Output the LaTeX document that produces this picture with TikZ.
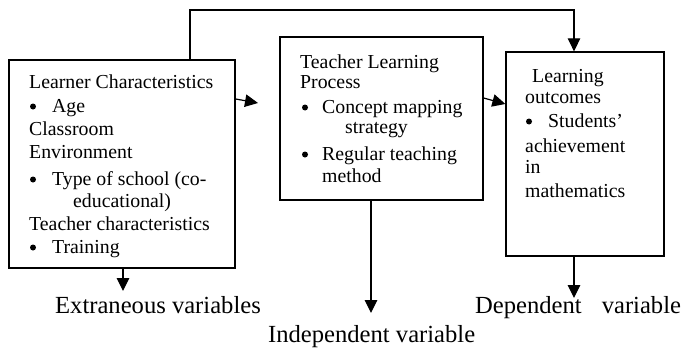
\documentclass[tikz,border=0pt]{standalone}
\usepackage{fontspec}
\setmainfont{Liberation Serif}
\usetikzlibrary{arrows.meta}
\tikzset{
  boxst/.style={draw, line width=1.3pt, minimum width=#1, inner sep=0pt},
  txt/.style={anchor=base west, inner sep=0pt, font=\fontsize{19.8}{23}\selectfont},
  lbl/.style={anchor=base west, inner sep=0pt, font=\fontsize{24.6}{28}\selectfont},
  bul/.style={circle, fill, inner sep=0pt, minimum size=6pt},
  arr/.style={line width=1.2pt, -{Triangle[length=13pt,width=12.5pt]}},
}
\begin{document}
\begin{tikzpicture}[x=1pt,y=-1pt]
\useasboundingbox (0,0) rectangle (684,348);
% boxes
\node[boxst=226pt, minimum height=208pt] (L) at (122,164) {};
\node[boxst=203pt, minimum height=163pt] (M) at (381.5,118.5) {};
\node[boxst=158pt, minimum height=204pt] (R) at (585,154) {};
% left box text
\node[txt] (l1) at (29,88) {Learner Characteristics};
\node[bul] (l2b) at (33,106.5) {};
\node[txt] (l2) at (52,112) {Age};
\node[txt] (l3) at (29,135) {Classroom};
\node[txt] (l4) at (29,158) {Environment};
\node[bul] (l5b) at (33,179.5) {};
\node[txt] (l5) at (52,185) {Type of school (co-};
\node[txt] (l6) at (73,207) {educational)};
\node[txt] (l7) at (29,230) {Teacher characteristics};
\node[bul] (l8b) at (33,247.5) {};
\node[txt] (l8) at (52,253) {Training};
% middle box text
\node[txt] (m1) at (300,68) {Teacher Learning};
\node[txt] (m2) at (300,88) {Process};
\node[bul] (m3b) at (305,107.5) {};
\node[txt] (m3) at (322,113) {Concept mapping};
\node[txt] (m4) at (345,133) {strategy};
\node[bul] (m5b) at (305,154.5) {};
\node[txt] (m5) at (322,160) {Regular teaching};
\node[txt] (m6) at (322,182) {method};
% right box text
\node[txt] (r1) at (532,82) {Learning};
\node[txt] (r2) at (525,103) {outcomes};
\node[bul] (r3b) at (529,121.5) {};
\node[txt] (r3) at (548,127) {Students’};
\node[txt] (r4) at (525,152) {achievement};
\node[txt] (r5) at (525,173) {in};
\node[txt] (r6) at (525,197) {mathematics};
% bottom labels
\node[lbl] (ev) at (55,313) {Extraneous variables};
\node[lbl] (iv) at (268,342) {Independent variable};
\node[lbl] (dv) at (475,313) {Dependent\hspace{20pt}variable};
% connectors
\coordinate (t1) at (190,10);
\coordinate (t2) at (574,10);
\draw[arr] (L.north -| t1) -- (t1) -- (t2) -- (R.north -| t2);
\coordinate (lm) at (258,103);
\draw[arr] (L.east |- 0,99) -- (lm);
\draw[arr] (M.east |- 0,98) -- (R.west |- 0,104);
\coordinate (ld) at (123,291);
\draw[arr] (L.south -| ld) -- (ld);
\coordinate (md) at (371,313);
\draw[arr] (M.south -| md) -- (md);
\coordinate (rd) at (574,298);
\draw[arr] (R.south -| rd) -- (rd);
\end{tikzpicture}
\end{document}
